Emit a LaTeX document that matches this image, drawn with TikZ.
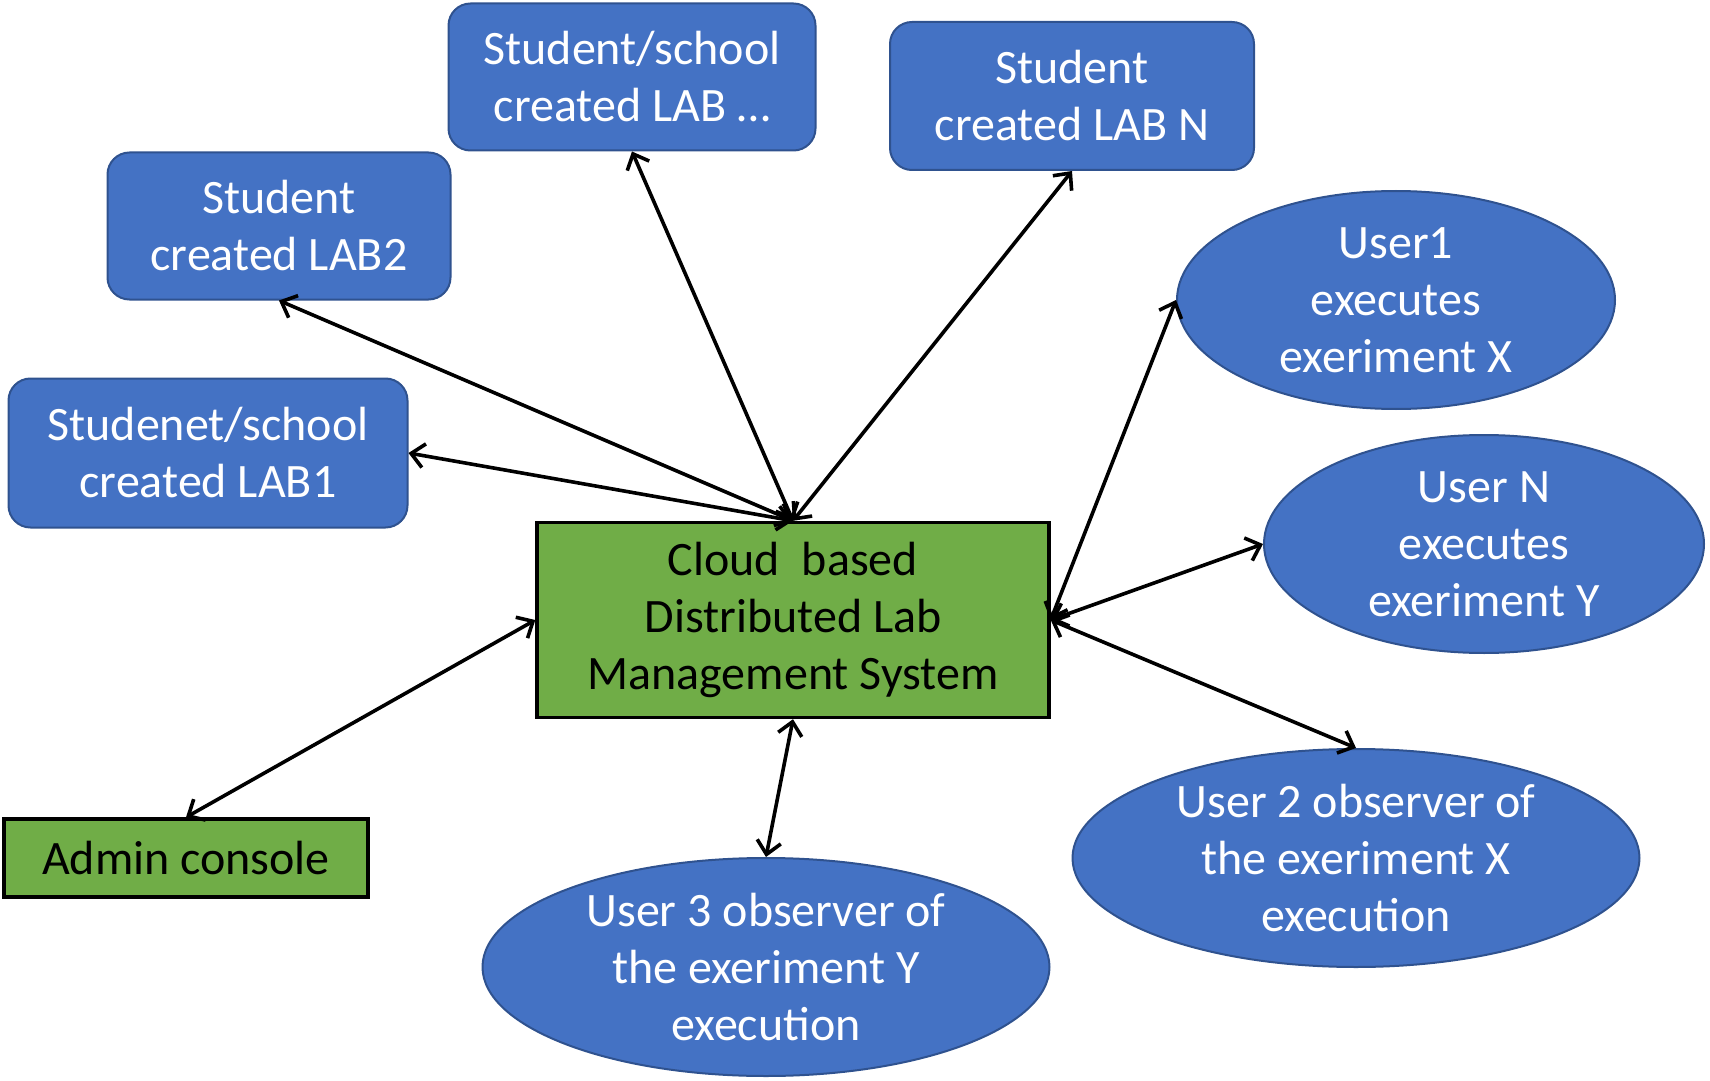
\documentclass[tikz,border=0pt]{standalone}
\usepackage{fontspec}
\setmainfont{Carlito}
\usepackage{tikz}
\usetikzlibrary{arrows.meta,shapes.geometric}
\definecolor{labblue}{HTML}{4472C4}
\definecolor{labedge}{HTML}{2F528F}
\definecolor{labgreen}{HTML}{70AD47}
\tikzset{%
    >={Straight Barb[length=6.5pt,width=12pt]}
}

\begin{document}
\begin{tikzpicture}[x=0.5pt, y=-0.5pt,
  every node/.style={font=\fontsize{24}{28.5}\selectfont, align=center},
  labbox/.style={draw=labedge, fill=labblue, text=white, rounded corners=11pt, line width=1pt, inner sep=0pt},
  userell/.style={ellipse, draw=labedge, fill=labblue, text=white, line width=1pt, inner xsep=0pt, inner ysep=-2pt, minimum width=#1, minimum height=109pt},
  userell/.default=219pt,
  corebox/.style={draw=black, fill=labgreen, line width=1.7pt, inner sep=0pt},
  link/.style={<->, line width=1.8pt}]
  \useasboundingbox (0,0) rectangle (1710,1081);

  \node[labbox, minimum width=183.5pt, minimum height=73.5pt] (labdots) at (632,77) {Student/school\\created LAB \dots};
  \node[labbox, minimum width=182pt, minimum height=74pt] (labn) at (1072,96) {Student\\created LAB N};
  \node[labbox, minimum width=171.5pt, minimum height=73.5pt] (labtwo) at (279,226) {Student\\created LAB2};
  \node[labbox, minimum width=199.5pt, minimum height=74.5pt] (labone) at (208,453) {Studenet/school\\created LAB1};

  \node[corebox, minimum width=256pt, minimum height=97.5pt] (cloud) at (793,620) {Cloud\ \ based\\Distributed Lab\\Management System};
  \node[corebox, minimum width=182pt, minimum height=39pt] (admin) at (186,858) {Admin console};

  \node[userell] (userone) at (1396,300) {User1\\executes\\exeriment X};
  \node[userell=220pt] (usern) at (1484,544) {User N\\executes\\exeriment Y};
  \node[userell=283.5pt] (usertwo) at (1356,858) {User 2 observer of\\the exeriment X\\execution};
  \node[userell=283.5pt] (userthree) at (766,967) {User 3 observer of\\the exeriment Y\\execution};

  \draw[link] (cloud.north) -- (labone.east);
  \draw[link] (cloud.north) -- (labtwo.south);
  \draw[link] (cloud.north) -- (labdots.south);
  \draw[link] (cloud.north) -- (labn.south);
  \draw[link] (cloud.east) -- (userone.west);
  \draw[link] (cloud.east) -- (usern.west);
  \draw[link] (cloud.east) -- (usertwo.north);
  \draw[link] (cloud.south) -- (userthree.north);
  \draw[link] (cloud.west) -- (admin.north);
\end{tikzpicture}
\end{document}
